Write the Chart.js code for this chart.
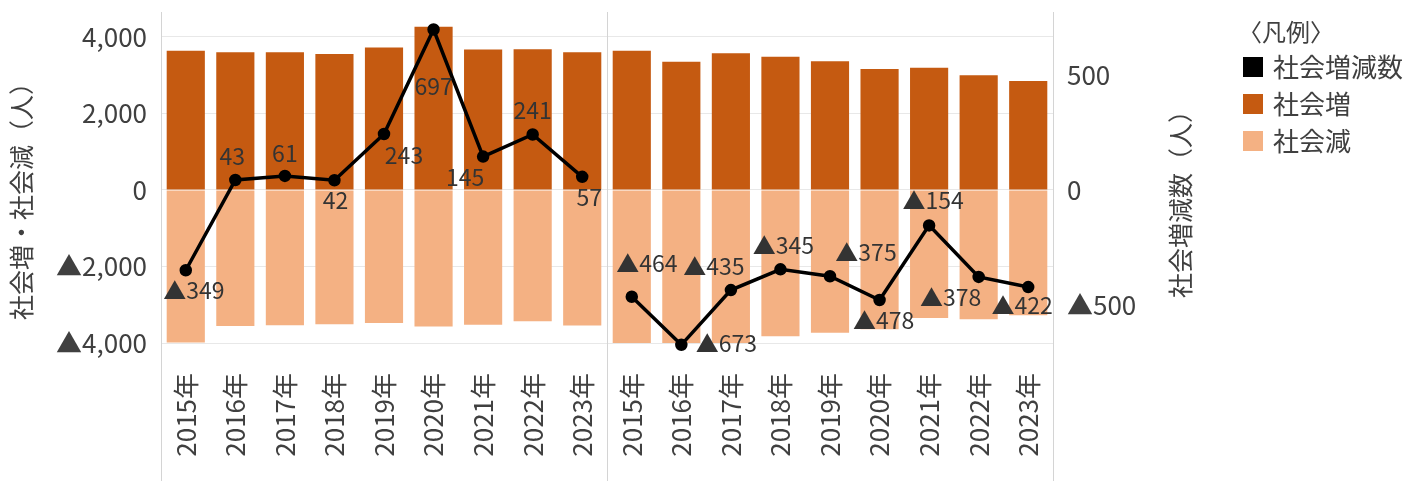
<!DOCTYPE html>
<html lang="ja">
<head>
<meta charset="utf-8">
<title>社会増減</title>
<script src="https://cdn.jsdelivr.net/npm/chart.js@4.4.1/dist/chart.umd.min.js"></script>
<style>
    html, body { margin: 0; padding: 0; background: #fff; }
    #wrap { width: 1412px; height: 481px; position: relative; }
</style>
</head>
<body>
<div id="wrap"><canvas id="social-chart"></canvas></div>
<script>
// Data
const years = ['2015年', '2016年', '2017年', '2018年', '2019年', '2020年', '2021年', '2022年', '2023年'];
const labels = years.concat(years);

const socialIncrease = [3640, 3600, 3600, 3555, 3720, 4265, 3670, 3675, 3600,
                        3640, 3350, 3573, 3480, 3360, 3160, 3190, 3000, 2850];
const socialDecrease = [-3989, -3557, -3539, -3513, -3477, -3568, -3525, -3434, -3543,
                        -4104, -4023, -4008, -3825, -3735, -3638, -3344, -3378, -3272];
const netChange = [-349, 43, 61, 42, 243, 697, 145, 241, 57,
                   -464, -673, -435, -345, -375, -478, -154, -378, -422];

const leftTicks = [-4000, -2000, 0, 2000, 4000];
const rightTicks = [-500, 0, 500];

// where each net-change label sits relative to its point (dx, dy)
const labelOffsets = [
    [8, 20], [-3, -24], [0, -23], [1, 20], [20, 21], [0, 57], [-18, 21], [0, -24], [7, 20],
    [15, -33], [45, -2], [-17, -24], [3, -24], [36, -24], [4, 20], [4, -25], [-28, 20], [-6, 18]
];

const legendItems = [
    { text: '社会増減数', color: '#000000' },
    { text: '社会増', color: '#C55A11' },
    { text: '社会減', color: '#F4B183' }
];

const FONT = "'Noto Sans CJK JP', 'Noto Sans', sans-serif";
const TEXT_COLOR = '#404040';

function fmt(v) {
    const s = Math.abs(v).toLocaleString('en-US');
    return v < 0 ? '▲' + s : s;
}

// split the net line in two so the panels are not joined
const half = years.length;
const netLeft = netChange.map((v, i) => i < half ? v : null);
const netRight = netChange.map((v, i) => i >= half ? v : null);

// Extra drawing: value labels, separators, axis titles, legend
const decorations = {
    id: 'decorations',
    beforeDatasetsDraw(chart) {
        const ctx = chart.ctx;
        const area = chart.chartArea;
        const x = chart.scales.x;
        const mid = (x.getPixelForValue(half - 1) + x.getPixelForValue(half)) / 2;
        ctx.save();
        ctx.strokeStyle = '#d4d4d4';
        ctx.lineWidth = 1;
        [area.left, mid, area.right].forEach(px => {
            const p = Math.round(px) + 0.5;
            ctx.beginPath();
            ctx.moveTo(p, area.top);
            ctx.lineTo(p, chart.height);
            ctx.stroke();
        });
        ctx.restore();
    },
    afterDatasetsDraw(chart) {
        const ctx = chart.ctx;
        ctx.save();
        ctx.font = '23px ' + FONT;
        ctx.fillStyle = '#333333';
        ctx.textAlign = 'center';
        ctx.textBaseline = 'middle';
        [2, 3].forEach(di => {
            const meta = chart.getDatasetMeta(di);
            meta.data.forEach((pt, i) => {
                const v = chart.data.datasets[di].data[i];
                if (v === null) return;
                const off = labelOffsets[i];
                ctx.fillText(fmt(v), pt.x + off[0], pt.y + off[1]);
            });
        });
        ctx.restore();
    },
    afterDraw(chart) {
        const ctx = chart.ctx;
        ctx.save();
        ctx.fillStyle = TEXT_COLOR;
        ctx.textAlign = 'center';
        ctx.textBaseline = 'middle';
        ctx.font = '25px ' + FONT;

        // left axis title
        ctx.save();
        ctx.translate(21, 195);
        ctx.rotate(-Math.PI / 2);
        ctx.fillText('社会増・社会減（人）', 0, 0);
        ctx.restore();

        // right axis title
        ctx.save();
        ctx.translate(1180, 198);
        ctx.rotate(-Math.PI / 2);
        ctx.fillText('社会増減数（人）', 0, 0);
        ctx.restore();

        // legend
        ctx.textAlign = 'left';
        ctx.font = '24px ' + FONT;
        ctx.fillText('〈凡例〉', 1238, 32);
        ctx.font = '26px ' + FONT;
        legendItems.forEach((item, i) => {
            const cy = 67 + i * 37;
            ctx.fillStyle = item.color;
            ctx.fillRect(1243, cy - 10, 20, 20);
            ctx.fillStyle = TEXT_COLOR;
            ctx.fillText(item.text, 1273, cy);
        });
        ctx.restore();
    }
};

Chart.defaults.font.family = FONT;
Chart.defaults.color = TEXT_COLOR;

// fixed axis sizes so the plot area lands where the reference has it
function fixWidth(w) {
    return function(scale) {
        scale.width = w;
        scale.paddingTop = 0;
        scale.paddingBottom = 0;
    };
}

const ctx = document.getElementById('social-chart').getContext('2d');
new Chart(ctx, {
    type: 'bar',
    data: {
        labels: labels,
        datasets: [
            {
                label: '社会増',
                data: socialIncrease,
                backgroundColor: '#C55A11',
                stack: 'bars',
                yAxisID: 'y',
                order: 2,
                categoryPercentage: 1,
                barPercentage: 0.77
            },
            {
                label: '社会減',
                data: socialDecrease,
                backgroundColor: '#F4B183',
                stack: 'bars',
                yAxisID: 'y',
                order: 2,
                categoryPercentage: 1,
                barPercentage: 0.77
            },
            {
                type: 'line',
                label: '社会増減数',
                data: netLeft,
                yAxisID: 'y2',
                borderColor: '#000',
                backgroundColor: '#000',
                borderWidth: 3.5,
                pointRadius: 4.5,
                pointBackgroundColor: '#000',
                spanGaps: false,
                clip: false,
                order: 0
            },
            {
                type: 'line',
                label: '社会増減数',
                data: netRight,
                yAxisID: 'y2',
                borderColor: '#000',
                backgroundColor: '#000',
                borderWidth: 3.5,
                pointRadius: 4.5,
                pointBackgroundColor: '#000',
                spanGaps: false,
                clip: false,
                order: 0
            }
        ]
    },
    options: {
        responsive: true,
        maintainAspectRatio: false,
        animation: false,
        layout: { padding: { top: 12, left: 0, right: 0, bottom: 0 } },
        plugins: {
            legend: { display: false },
            tooltip: { enabled: false }
        },
        scales: {
            x: {
                stacked: true,
                grid: { display: false, drawTicks: false },
                border: { display: false },
                ticks: {
                    autoSkip: false,
                    minRotation: 90,
                    maxRotation: 90,
                    padding: 30,
                    font: { size: 26 },
                    color: TEXT_COLOR
                },
                afterFit: function(scale) {
                    scale.height = 138;
                    scale.paddingLeft = 0;
                    scale.paddingRight = 0;
                }
            },
            y: {
                position: 'left',
                stacked: true,
                min: -4000,
                max: 4650,
                grid: { color: '#e8e8e8', drawTicks: false },
                border: { display: false },
                ticks: {
                    padding: 14,
                    font: { size: 26 },
                    color: TEXT_COLOR,
                    callback: function(value) { return fmt(value); }
                },
                afterBuildTicks: function(scale) {
                    scale.ticks = leftTicks.map(v => ({ value: v }));
                },
                afterFit: fixWidth(161)
            },
            y2: {
                position: 'right',
                min: -665,
                max: 773,
                grid: { display: false, drawTicks: false },
                border: { display: false },
                ticks: {
                    padding: 14,
                    font: { size: 26 },
                    color: TEXT_COLOR,
                    callback: function(value) { return fmt(value); }
                },
                afterBuildTicks: function(scale) {
                    scale.ticks = rightTicks.map(v => ({ value: v }));
                },
                afterFit: fixWidth(359)
            }
        }
    },
    plugins: [decorations]
});
</script>
</body>
</html>
